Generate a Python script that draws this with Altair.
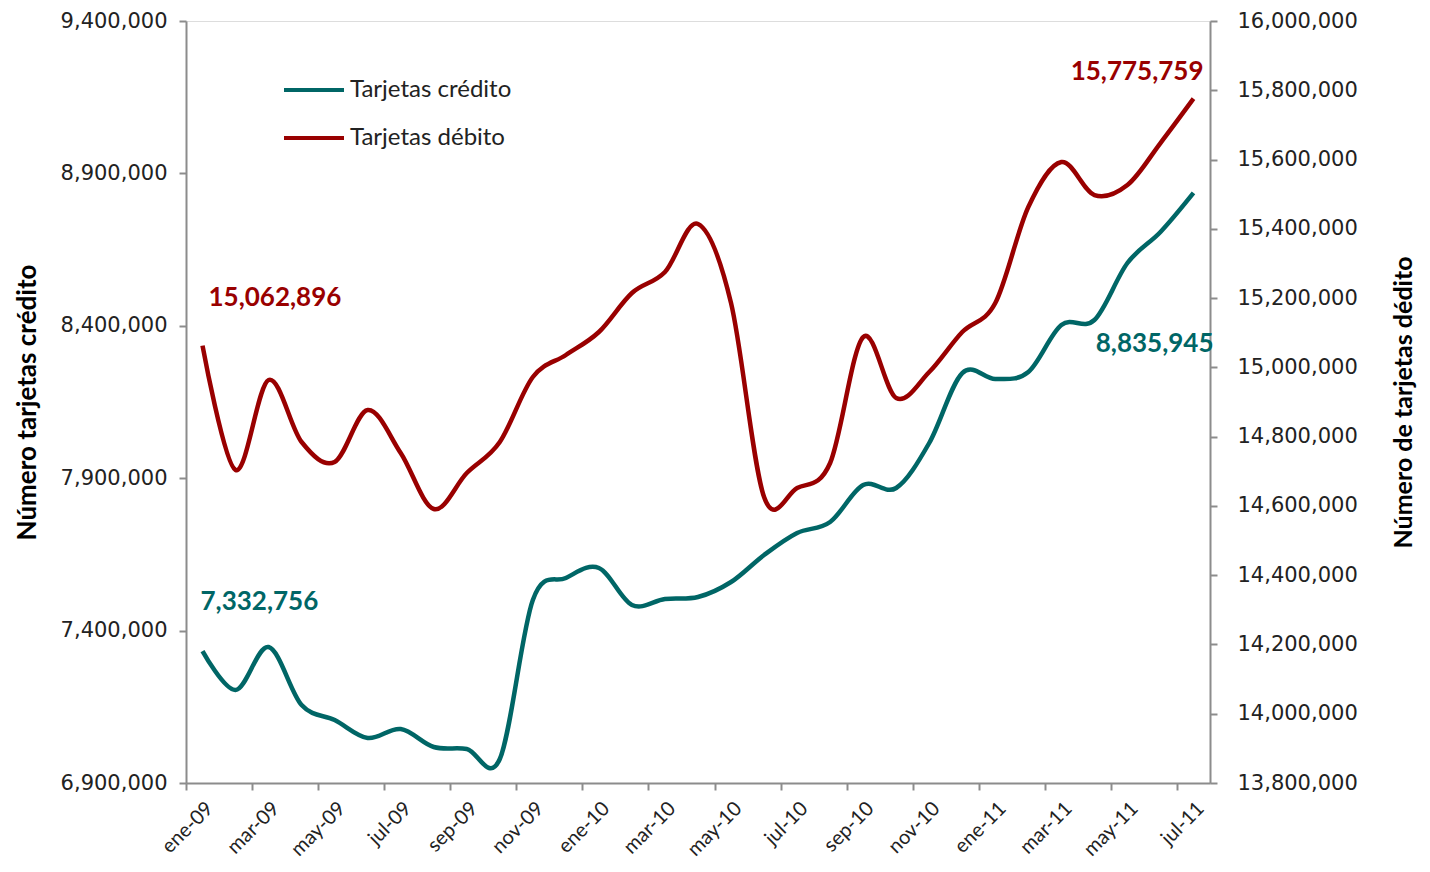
import altair as alt
import pandas as pd

months = [
    "ene-09", "feb-09", "mar-09", "abr-09", "may-09", "jun-09", "jul-09", "ago-09",
    "sep-09", "oct-09", "nov-09", "dic-09",
    "ene-10", "feb-10", "mar-10", "abr-10", "may-10", "jun-10", "jul-10", "ago-10",
    "sep-10", "oct-10", "nov-10", "dic-10",
    "ene-11", "feb-11", "mar-11", "abr-11", "may-11", "jun-11", "jul-11",
]

credito = [
    7332756, 7205100, 7346200, 7155900, 7106700, 7047600, 7077200, 7018100,
    7011500, 6978700, 7500400, 7572600,
    7605400, 7484000, 7503700, 7510200, 7559400, 7648000, 7720200, 7756300,
    7877700, 7867800, 8015500, 8245100,
    8225400, 8248400, 8402600, 8419000, 8606000, 8707700, 8835945,
]

debito = [
    15062896, 14703700, 14963500, 14784500, 14726800, 14876900, 14752700, 14591100,
    14695000, 14784500, 14972200, 15035700,
    15102100, 15214700, 15275300, 15413900, 15185800, 14625700, 14651700, 14723900,
    15087600, 14911500, 14986600, 15102100,
    15185800, 15463000, 15592900, 15497600, 15526500, 15647700, 15775759,
]

series_names = ["Tarjetas crédito", "Tarjetas débito"]
series_colors = ["#006666", "#990000"]

left_ticks = [6900000, 7400000, 7900000, 8400000, 8900000, 9400000]
right_ticks = [13800000 + 200000 * k for k in range(12)]

df = pd.DataFrame({"mes": months, "credito": credito, "debito": debito,
                   "idx": list(range(len(months)))})
last_idx = len(months) - 1

AXIS_GRAY = "#8c8c8c"
HALF_BAND = 1024 / len(months) / 2

x_enc = alt.X(
    "mes:O",
    sort=months,
    scale=alt.Scale(type="band", paddingInner=0, paddingOuter=0),
    axis=alt.Axis(
        values=months[::2], labelAngle=315, title=None,
        tickOffset=-HALF_BAND, labelOffset=HALF_BAND,
        labelFont="Lato", labelFontSize=20, labelColor="#222222",
        domainColor=AXIS_GRAY, domainWidth=2, tickColor=AXIS_GRAY, tickWidth=2,
        tickSize=7, labelPadding=8, grid=False,
    ),
)

num_fmt = "format(datum.value, ',')"

y_left = alt.Y(
    "credito:Q",
    scale=alt.Scale(domain=[6900000, 9400000], nice=False, zero=False),
    axis=alt.Axis(
        orient="left", values=left_ticks, labelExpr=num_fmt, grid=False,
        title="Número tarjetas crédito", titleFont="Lato", titleFontSize=26,
        titleFontWeight="bold", titleColor="#000000", titlePadding=20,
        labelFont="DejaVu Sans", labelFontSize=21, labelColor="#222222",
        labelPadding=12, domainColor=AXIS_GRAY, domainWidth=2,
        tickColor=AXIS_GRAY, tickWidth=2, tickSize=7,
    ),
)

y_right = alt.Y(
    "debito:Q",
    scale=alt.Scale(domain=[13800000, 16000000], nice=False, zero=False),
    axis=alt.Axis(
        orient="right", values=right_ticks, labelExpr=num_fmt, grid=False,
        title="Número de tarjetas dédito", titleFont="Lato", titleFontSize=25,
        titleFontWeight="bold", titleColor="#000000", titlePadding=34,
        titleAngle=270, titleBaseline="top",
        labelFont="DejaVu Sans", labelFontSize=21, labelColor="#222222",
        labelPadding=20, domainColor=AXIS_GRAY, domainWidth=2,
        tickColor=AXIS_GRAY, tickWidth=2, tickSize=7,
    ),
)

color_scale = alt.Scale(domain=series_names, range=series_colors)
legend = alt.Legend(
    title=None, orient="none", legendX=116, legendY=57,
    symbolType="M-3,0H3", symbolSize=400, symbolStrokeWidth=4,
    labelFont="Lato", labelFontSize=24, labelColor="#222222", labelLimit=400,
    labelOffset=24, rowPadding=24, padding=0,
)

base = alt.Chart(df)

credit_line = base.mark_line(strokeWidth=4.5, interpolate="cardinal").encode(
    x=x_enc, y=y_left,
    color=alt.Color("s:N", scale=color_scale, legend=legend),
).transform_calculate(s="'Tarjetas crédito'")

text_style = dict(font="Lato", fontSize=26, fontWeight="bold")

credit_first = base.transform_filter(alt.datum.idx == 0).mark_text(
    align="left", baseline="middle", dx=-2, dy=-49, color=series_colors[0], **text_style
).encode(x=x_enc, y=y_left, text=alt.Text("credito:Q", format=","))

credit_last = base.transform_filter(alt.datum.idx == last_idx).mark_text(
    align="right", baseline="middle", dx=20, dy=151, color=series_colors[0], **text_style
).encode(x=x_enc, y=y_left, text=alt.Text("credito:Q", format=","))

debit_line = base.mark_line(strokeWidth=4.5, interpolate="cardinal").encode(
    x=x_enc, y=y_right,
    color=alt.Color("s:N", scale=color_scale, legend=legend),
).transform_calculate(s="'Tarjetas débito'")

debit_first = base.transform_filter(alt.datum.idx == 0).mark_text(
    align="left", baseline="middle", dx=6, dy=-48, color=series_colors[1], **text_style
).encode(x=x_enc, y=y_right, text=alt.Text("debito:Q", format=","))

debit_last = base.transform_filter(alt.datum.idx == last_idx).mark_text(
    align="right", baseline="middle", dx=10, dy=-27, color=series_colors[1], **text_style
).encode(x=x_enc, y=y_right, text=alt.Text("debito:Q", format=","))

left_layer = alt.layer(credit_line, credit_first, credit_last)
right_layer = alt.layer(debit_line, debit_first, debit_last)

chart = alt.layer(left_layer, right_layer).resolve_scale(
    y="independent"
).properties(
    width=1024, height=762,
    autosize=alt.AutoSizeParams(type="none"),
    padding={"left": 178, "top": 13, "right": 212, "bottom": 81},
).configure_view(stroke=None).configure(background="white")

chart.save("out.html", embed_options={"renderer": "svg", "actions": False})
